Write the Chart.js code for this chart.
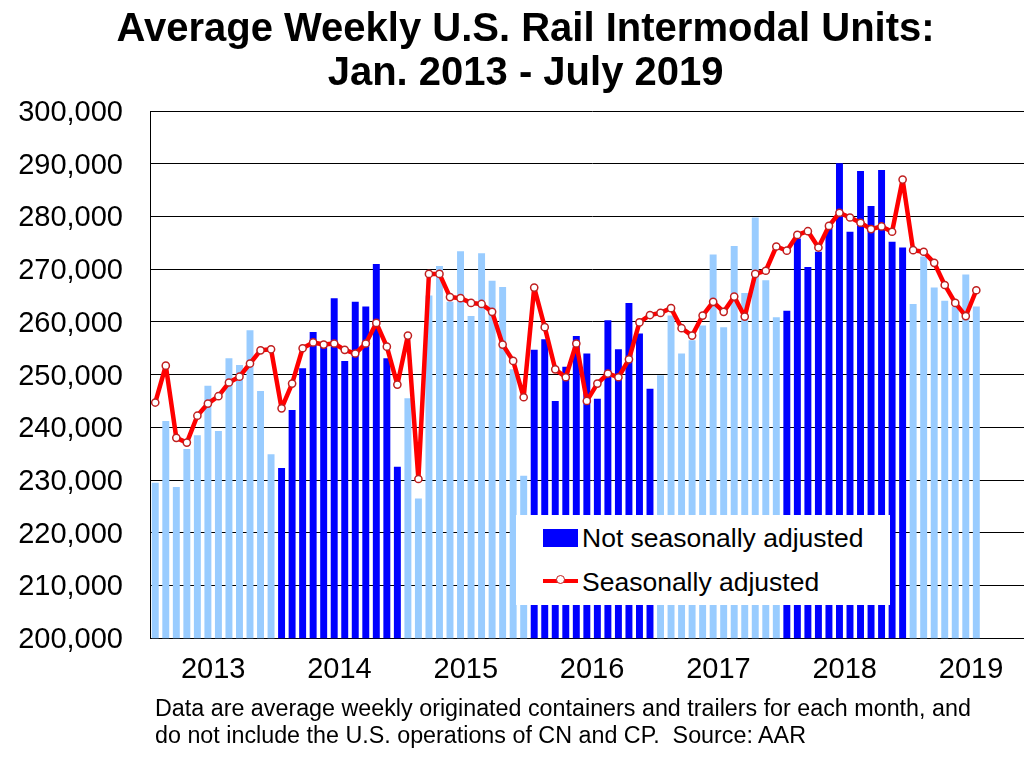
<!DOCTYPE html>
<html>
<head>
<meta charset="utf-8">
<script src="https://cdn.jsdelivr.net/npm/chart.js@4.4.1/dist/chart.umd.min.js"></script>
<style>
  html, body { margin:0; padding:0; background:#fff; overflow:hidden; width:1024px; height:763px; }
  #wrap { position:absolute; left:0; top:0; width:1050px; height:763px; }
  #legend { position:absolute; left:516px; top:515px; width:374px; height:90px; background:#fff;
            font-family:"Liberation Sans", Arial, sans-serif; font-size:26.5px; color:#000; }
  .row { position:absolute; left:0; width:374px; height:26px; line-height:26px; white-space:nowrap; }
  .row span { position:absolute; left:66px; top:0; }
  .sw { position:absolute; left:27px; top:14px; width:35px; height:18px; background:#0000FF; }
  .ln { position:absolute; left:27px; width:35px; height:4px; background:#FF0000; }
  .dot { position:absolute; width:7px; height:7px; border-radius:50%; background:#fff; border:1.5px solid #C02020; }
  #note { position:absolute; left:155px; top:695px; font-family:"Liberation Sans", Arial, sans-serif;
          font-size:23.3px; line-height:26.7px; color:#000; white-space:pre; }
</style>
</head>
<body>
<div id="wrap"><canvas id="c"></canvas></div>
<div id="legend">
  <div class="sw"></div>
  <div class="row" style="top:10px"><span>Not seasonally adjusted</span></div>
  <div class="ln" style="top:64px"></div>
  <div class="dot" style="left:40px;top:60px"></div>
  <div class="row" style="top:54px"><span>Seasonally adjusted</span></div>
</div>
<div id="note">Data are average weekly originated containers and trailers for each month, and
do not include the U.S. operations of CN and CP.  Source: AAR</div>
<script>
const years = ['2013','2014','2015','2016','2017','2018','2019'];
const monthNames = ['Jan','Feb','Mar','Apr','May','Jun','Jul','Aug','Sep','Oct','Nov','Dec'];
const categories = years.flatMap(y => monthNames.map(m => m + ' ' + y));

const notSeasonallyAdjusted = [
  229500, 241200, 228700, 235900, 238500, 247900, 239300, 253100, 251800, 258400, 246900, 234900,
  232300, 243300, 251200, 258100, 255300, 264500, 252600, 263800, 262900, 271000, 253100, 232500,
  245500, 226500, 265000, 270600, 263800, 273400, 261100, 273000, 267800, 266600, 251000, 230800,
  254700, 256700, 245000, 251500, 257300, 254000, 245400, 260300, 254800, 263600, 257800, 247300,
  249900, 261200, 254000, 256500, 259300, 272800, 259000, 274400, 265500, 279800, 267900, 260900,
  262100, 275800, 270400, 273300, 277700, 290100, 277100, 288600, 282000, 288800, 275200, 274100,
  263400, 272400, 266500, 264000, 262900, 269000, 262900
];
const seasonallyAdjusted = [
  244700, 251700, 238000, 237100, 242200, 244500, 245900, 248500, 249600, 252100, 254600, 254800,
  243600, 248300, 255000, 256100, 255700, 255900, 254700, 254000, 255900, 259800, 255300, 248100,
  257400, 230200, 269100, 269100, 264700, 264500, 263600, 263400, 261900, 255700, 252600, 245700,
  266500, 259000, 251000, 249500, 255900, 245000, 248300, 250200, 249500, 252900, 259900, 261300,
  261700, 262600, 258800, 257400, 261200, 263800, 261900, 264800, 261000, 269100, 269700, 274300,
  273500, 276500, 277200, 274100, 278200, 280700, 279800, 278800, 277600, 278100, 277100, 287000,
  273600, 273300, 271200, 267000, 263600, 261100, 266000
];
const yTicks = [200000, 210000, 220000, 230000, 240000, 250000, 260000, 270000, 280000, 290000, 300000];
const titleLines = ['Average Weekly U.S. Rail Intermodal Units:', 'Jan. 2013 - July 2019'];

const LIGHT = '#99CCFF', DARK = '#0000FF';
const barColors = notSeasonallyAdjusted.map((v, i) => (Math.floor(i / 12) % 2 === 0 ? LIGHT : DARK));
const FONT = '"Liberation Sans", Arial, sans-serif';

new Chart(document.getElementById('c'), {
  data: {
    labels: categories,
    datasets: [
      {
        type: 'line',
        label: 'Seasonally adjusted',
        data: seasonallyAdjusted,
        borderColor: '#FF0000',
        borderWidth: 4.5,
        borderJoinStyle: 'round',
        borderCapStyle: 'round',
        tension: 0,
        pointRadius: 3.6,
        pointBorderWidth: 1.5,
        pointBackgroundColor: '#FFFFFF',
        pointBorderColor: '#C02020',
        order: 0
      },
      {
        type: 'bar',
        label: 'Not seasonally adjusted',
        data: notSeasonallyAdjusted,
        backgroundColor: barColors,
        borderWidth: 0,
        barPercentage: 0.66,
        categoryPercentage: 1.0,
        order: 1
      }
    ]
  },
  options: {
    responsive: true,
    maintainAspectRatio: false,
    animation: false,
    layout: { padding: { left: 17, right: 15.8, top: 0, bottom: 62 } },
    plugins: {
      legend: { display: false },
      tooltip: { enabled: false },
      title: {
        display: true,
        text: titleLines,
        color: '#000',
        font: { family: FONT, size: 40, weight: 'bold', lineHeight: 1.1 },
        padding: { top: 8, bottom: 15 }
      }
    },
    scales: {
      x: {
        type: 'category',
        offset: true,
        grid: { display: false, drawTicks: false },
        border: { display: true, color: '#000', width: 1 },
        ticks: {
          autoSkip: false,
          maxRotation: 0,
          minRotation: 0,
          padding: 14,
          labelOffset: -5.26,
          color: '#000',
          font: { family: FONT, size: 29 },
          callback: (v, i) => (i % 12 === 6 ? years[Math.floor(i / 12)] : '')
        }
      },
      y: {
        min: yTicks[0],
        max: yTicks[yTicks.length - 1],
        afterBuildTicks: (scale) => { scale.ticks = yTicks.map(v => ({ value: v })); },
        afterFit: (scale) => { scale.width = 133; },
        grid: { color: '#000', lineWidth: 1, drawTicks: false },
        border: { display: true, color: '#000', width: 1 },
        ticks: {
          padding: 27,
          labelOffset: 2,
          color: '#000',
          font: { family: FONT, size: 29 },
          callback: (v) => Number(v).toLocaleString('en-US')
        }
      }
    }
  }
});
</script>
</body>
</html>
